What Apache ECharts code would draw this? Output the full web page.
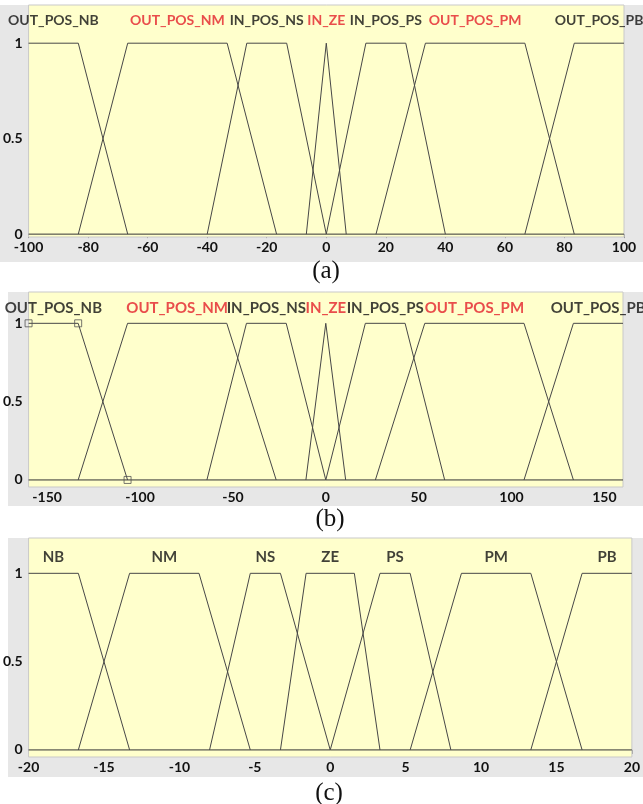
<!DOCTYPE html>
<html>
<head>
<meta charset="utf-8">
<script src="https://cdn.jsdelivr.net/npm/echarts@6/dist/echarts.min.js"></script>
<style>
html,body{margin:0;padding:0;background:#fff;}
#chart{width:643px;height:804px;}
</style>
</head>
<body>
<div id="chart"></div>
<script>
// ---- Membership functions: trapezoid params [a, b, c, d] (a==b or c==d for shoulders, b==c for triangles)

// (a) position error, universe [-100, 100]
const termsA = ['OUT_POS_NB', 'OUT_POS_NM', 'IN_POS_NS', 'IN_ZE', 'IN_POS_PS', 'OUT_POS_PM', 'OUT_POS_PB'];
const paramsA = [
  [-100, -100, -83.3, -66.7],
  [-83.3, -66.7, -33.3, -16.7],
  [-40, -26.7, -13.3, 0],
  [-6.7, 0, 0, 6.7],
  [0, 13.3, 26.7, 40],
  [16.7, 33.3, 66.7, 83.3],
  [66.7, 83.3, 100, 100]
];
const rangeA = [-100, 100];
const ticksA = [-100, -80, -60, -40, -20, 0, 20, 40, 60, 80, 100];

// (b) same terms, universe [-160, 160]
const termsB = ['OUT_POS_NB', 'OUT_POS_NM', 'IN_POS_NS', 'IN_ZE', 'IN_POS_PS', 'OUT_POS_PM', 'OUT_POS_PB'];
const paramsB = [
  [-160, -160, -133.3, -106.7],
  [-133.3, -106.7, -53.3, -26.7],
  [-64, -42.7, -21.3, 0],
  [-10.7, 0, 0, 10.7],
  [0, 21.3, 42.7, 64],
  [26.7, 53.3, 106.7, 133.3],
  [106.7, 133.3, 160, 160]
];
const rangeB = [-160, 160];
const ticksB = [-150, -100, -50, 0, 50, 100, 150];

// (c) output, universe [-20, 20]
const termsC = ['NB', 'NM', 'NS', 'ZE', 'PS', 'PM', 'PB'];
const paramsC = [
  [-20, -20, -16.7, -13.3],
  [-16.7, -13.3, -8.7, -5.3],
  [-8, -5.3, -3.3, 0],
  [-3.3, -1.6, 1.6, 3.3],
  [0, 3.3, 5.3, 8],
  [5.3, 8.7, 13.3, 16.7],
  [13.3, 16.7, 20, 20]
];
const rangeC = [-20, 20];
const ticksC = [-20, -15, -10, -5, 0, 5, 10, 15, 20];

const yTicks = [0, 0.5, 1];
const redTerms = ['OUT_POS_NM', 'IN_ZE', 'OUT_POS_PM'];
// term whose parameter handles are shown (panel b)
const selectedB = 'OUT_POS_NB';

// ---- layout / style
const FONT = 'Lato, "Open Sans", sans-serif';
const LINE = '#474747';
const YELLOW = '#ffffcc';
const GREY = '#e7e7e7';

const panels = [
  { terms: termsA, params: paramsA, range: rangeA, ticks: ticksA, interval: 20,
    grid: { left: 28, top: 5, width: 596, height: 232 }, ymin: -0.015, ymax: 1.2,
    labelLevel: 1.12, labelSize: 14, selected: null,
    caption: '(a)', capPos: [326, 271], back: [0, 5, 643, 257] },
  { terms: termsB, params: paramsB, range: rangeB, ticks: ticksB, interval: null,
    grid: { left: 28, top: 292, width: 595, height: 195 }, ymin: -0.045, ymax: 1.2,
    labelLevel: 1.10, labelSize: 15, selected: selectedB,
    caption: '(b)', capPos: [330, 519], back: [8, 292, 635, 214] },
  { terms: termsC, params: paramsC, range: rangeC, ticks: ticksC, interval: 5,
    grid: { left: 28, top: 538, width: 608, height: 219 }, ymin: -0.04, ymax: 1.2,
    labelLevel: 1.09, labelSize: 15, selected: null,
    caption: '(c)', capPos: [329, 793], back: [8, 538, 635, 239] }
];

// vertices of a trapezoid / triangle / shoulder
function vertices(p) {
  const [a, b, c, d] = p;
  const pts = [];
  if (a !== b) pts.push([a, 0]);
  pts.push([b, 1]);
  if (c !== b) pts.push([c, 1]);
  if (d !== c) pts.push([d, 0]);
  return pts;
}

const grids = [], xAxes = [], yAxes = [], series = [], graphics = [];

panels.forEach((P, i) => {
  grids.push(Object.assign({ show: true, backgroundColor: YELLOW, borderColor: '#c9c9c9', borderWidth: 1, z: 1 }, P.grid));
  graphics.push({ type: 'rect', z: -5, shape: { x: P.back[0], y: P.back[1], width: P.back[2], height: P.back[3] }, style: { fill: GREY } });
  graphics.push({ type: 'text', x: P.capPos[0], y: P.capPos[1], style: { text: P.caption, font: '25px "Liberation Serif", "Times New Roman", serif', fill: '#111', textAlign: 'center', textVerticalAlign: 'middle' } });

  const xBase = {
    gridIndex: i, type: 'value', min: P.range[0], max: P.range[1],
    splitLine: { show: false }, axisLine: { show: false }
  };
  const xb = Object.assign({}, xBase, {
    position: 'bottom',
    axisTick: { show: true, inside: false, length: 4, lineStyle: { color: '#9a9a9a' } },
    axisLabel: { margin: 3, color: '#111', fontFamily: FONT, fontWeight: 'bold', fontSize: 14 }
  });
  const xt = Object.assign({}, xBase, {
    position: 'top',
    axisTick: { show: true, inside: true, length: 3, lineStyle: { color: '#9a9a9a' } },
    axisLabel: { show: false }
  });
  if (P.interval) { xb.interval = P.interval; xt.interval = P.interval; }
  else {
    xb.axisLabel.customValues = P.ticks; xb.axisTick.customValues = P.ticks;
    xt.axisTick.customValues = P.ticks; xt.axisLabel.customValues = P.ticks;
  }
  xAxes.push(xb, xt);

  const yBase = { gridIndex: i, type: 'value', min: P.ymin, max: P.ymax, splitLine: { show: false }, axisLine: { show: false } };
  yAxes.push(Object.assign({}, yBase, {
    position: 'left',
    axisTick: { show: true, inside: false, length: 4, customValues: yTicks, lineStyle: { color: '#9a9a9a' } },
    axisLabel: { customValues: yTicks, margin: 6, color: '#111', fontFamily: FONT, fontWeight: 'bold', fontSize: 14,
      formatter: v => String(v) }
  }));
  yAxes.push(Object.assign({}, yBase, {
    position: 'right',
    axisTick: { show: true, inside: true, length: 3, customValues: yTicks, lineStyle: { color: '#9a9a9a' } },
    axisLabel: { show: false, customValues: yTicks }
  }));

  const xi = i * 2, yi = i * 2;

  // zero line across the universe
  series.push({
    type: 'line', xAxisIndex: xi, yAxisIndex: yi, data: [[P.range[0], 0], [P.range[1], 0]],
    symbol: 'none', silent: true, lineStyle: { color: '#333', width: 1 }, z: 3
  });

  // membership curves
  P.params.forEach((p, k) => {
    series.push({
      type: 'line', name: P.terms[k], xAxisIndex: xi, yAxisIndex: yi, data: vertices(p),
      symbol: 'none', silent: true, lineStyle: { color: LINE, width: 1 }, z: 3
    });
    if (P.selected === P.terms[k]) {
      series.push({
        type: 'scatter', xAxisIndex: xi, yAxisIndex: yi, data: vertices(p), silent: true,
        symbol: 'rect', symbolSize: 7,
        itemStyle: { color: 'rgba(0,0,0,0)', borderColor: '#555', borderWidth: 1 }, z: 4
      });
    }
  });

  // term names, centred over each plateau
  series.push({
    type: 'scatter', xAxisIndex: xi, yAxisIndex: yi, silent: true, symbolSize: 1,
    itemStyle: { color: 'rgba(0,0,0,0)' }, z: 5,
    data: P.terms.map((t, k) => ({
      value: [(P.params[k][1] + P.params[k][2]) / 2, P.labelLevel], name: t,
      label: { color: redTerms.includes(t) ? '#e3202a' : '#111' }
    })),
    label: { show: true, position: 'inside', formatter: d => d.name, fontFamily: FONT, fontWeight: 'bold', fontSize: P.labelSize }
  });
});

const chart = echarts.init(document.getElementById('chart'), null, { renderer: 'canvas' });
chart.setOption({
  animation: false,
  backgroundColor: '#ffffff',
  grid: grids,
  xAxis: xAxes,
  yAxis: yAxes,
  series: series,
  graphic: { elements: graphics }
});
</script>
</body>
</html>
